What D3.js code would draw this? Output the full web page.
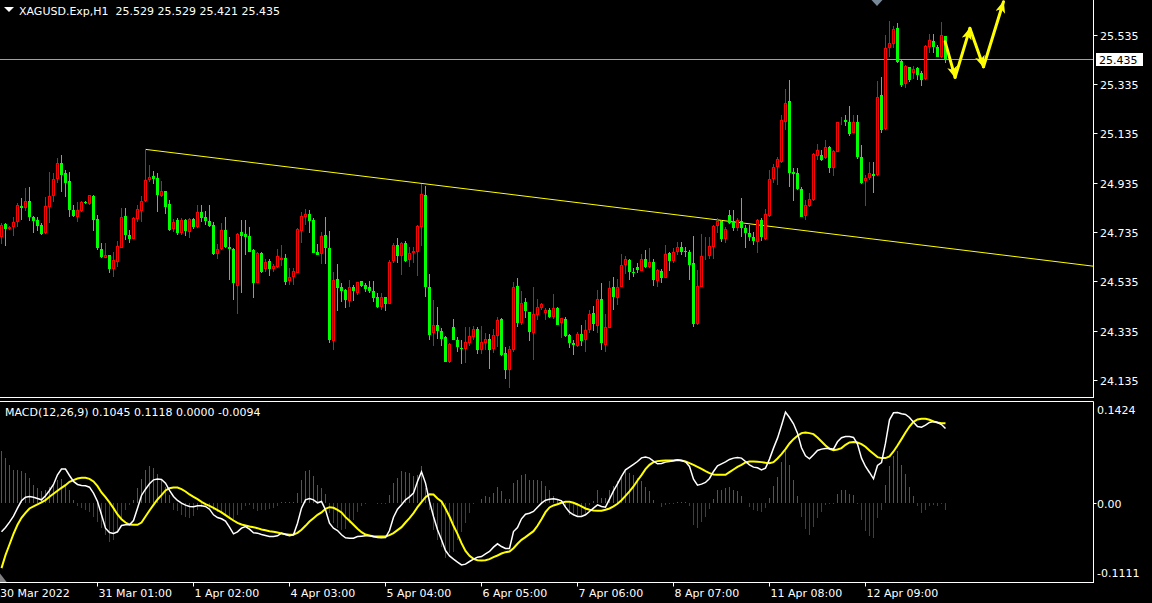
<!DOCTYPE html>
<html><head><meta charset="utf-8">
<script src="https://cdn.jsdelivr.net/npm/d3@7"></script>
<style>
html,body{margin:0;padding:0;background:#000;overflow:hidden}
svg{display:block}
text{font-family:"DejaVu Sans",sans-serif;font-size:11px;fill:#fff;white-space:pre}
</style>
</head><body><svg id="c" width="1152" height="603"></svg>
<script>
const symbolTitle = "XAGUSD.Exp,H1  25.529 25.529 25.421 25.435";
const macdTitle = "MACD(12,26,9) 0.1045 0.1118 0.0000 -0.0094";

const opens = [24.716,24.767,24.747,24.754,24.777,24.840,24.833,24.861,24.794,24.784,
24.762,24.730,24.838,24.881,24.950,25.014,24.975,24.942,24.824,24.797,
24.821,24.857,24.848,24.881,24.786,24.666,24.630,24.641,24.583,24.614,
24.671,24.800,24.723,24.706,24.789,24.820,24.861,24.947,24.962,24.953,
24.882,24.901,24.848,24.747,24.784,24.732,24.784,24.736,24.788,24.756,
24.817,24.794,24.779,24.763,24.647,24.667,24.743,24.674,24.666,24.517,
24.735,24.727,24.717,24.662,24.529,24.648,24.583,24.618,24.585,24.594,
24.621,24.628,24.537,24.551,24.570,24.740,24.797,24.808,24.784,24.654,
24.644,24.723,24.671,24.294,24.544,24.510,24.500,24.456,24.513,24.486,
24.536,24.520,24.513,24.495,24.471,24.432,24.471,24.444,24.617,24.682,
24.637,24.691,24.621,24.648,24.655,24.754,24.885,24.512,24.324,24.357,
24.333,24.310,24.209,24.349,24.297,24.264,24.261,24.286,24.310,24.341,
24.256,24.286,24.299,24.260,24.314,24.381,24.243,24.175,24.256,24.516,
24.364,24.450,24.409,24.326,24.398,24.428,24.407,24.418,24.391,24.426,
24.364,24.382,24.317,24.283,24.273,24.321,24.297,24.337,24.407,24.355,
24.463,24.276,24.347,24.510,24.468,24.513,24.600,24.620,24.574,24.593,
24.578,24.625,24.594,24.613,24.537,24.577,24.549,24.651,24.617,24.655,
24.674,24.659,24.655,24.609,24.362,24.513,24.632,24.637,24.675,24.759,
24.779,24.705,24.804,24.779,24.752,24.779,24.752,24.732,24.716,24.695,
24.784,24.706,24.800,24.949,24.997,25.020,25.182,25.267,24.979,24.973,
24.909,24.801,24.841,24.865,25.044,25.048,25.034,25.078,24.993,25.061,
25.181,25.189,25.182,25.138,25.181,25.040,24.943,24.953,24.970,24.966,
25.291,25.153,25.480,25.497,25.561,25.429,25.335,25.403,25.379,25.399,
25.379,25.354,25.487,25.510,25.487,25.444,25.529];

const highs = [24.770,24.770,24.759,24.794,24.854,24.872,24.912,24.916,24.800,24.797,
24.770,24.878,24.979,24.973,25.034,25.047,24.986,24.979,24.844,24.858,
24.861,24.861,24.885,24.885,24.804,24.689,24.689,24.643,24.655,24.700,
24.833,24.833,24.743,24.794,24.846,24.881,25.070,25.007,24.982,24.973,
24.942,24.903,24.865,24.786,24.790,24.790,24.789,24.792,24.790,24.844,
24.844,24.820,24.843,24.777,24.686,24.770,24.794,24.716,24.668,24.729,
24.784,24.784,24.754,24.665,24.652,24.654,24.625,24.625,24.605,24.666,
24.682,24.646,24.589,24.589,24.750,24.815,24.827,24.824,24.793,24.686,
24.736,24.797,24.740,24.574,24.605,24.527,24.502,24.540,24.520,24.533,
24.538,24.527,24.536,24.536,24.486,24.486,24.473,24.621,24.689,24.709,
24.695,24.698,24.673,24.673,24.763,24.930,24.921,24.564,24.459,24.432,
24.344,24.312,24.286,24.382,24.310,24.297,24.348,24.351,24.353,24.348,
24.353,24.324,24.320,24.342,24.391,24.387,24.269,24.272,24.531,24.549,
24.497,24.468,24.411,24.513,24.463,24.448,24.428,24.428,24.483,24.429,
24.387,24.391,24.320,24.297,24.330,24.357,24.378,24.418,24.435,24.500,
24.527,24.402,24.536,24.551,24.543,24.644,24.637,24.624,24.587,24.608,
24.646,24.662,24.669,24.624,24.583,24.583,24.682,24.655,24.671,24.695,
24.693,24.675,24.662,24.719,24.581,24.727,24.716,24.713,24.763,24.790,
24.784,24.756,24.824,24.824,24.790,24.871,24.763,24.763,24.736,24.787,
24.790,24.827,24.986,25.009,25.040,25.209,25.314,25.351,24.993,24.993,
24.919,24.865,24.894,25.054,25.092,25.067,25.108,25.084,25.067,25.182,
25.200,25.209,25.246,25.209,25.209,25.088,24.966,25.020,25.020,25.349,
25.365,25.534,25.592,25.571,25.581,25.433,25.412,25.405,25.408,25.405,
25.388,25.493,25.538,25.538,25.493,25.588,25.529];

const lows = [24.686,24.678,24.741,24.719,24.754,24.784,24.820,24.779,24.732,24.740,
24.723,24.727,24.770,24.858,24.932,24.898,24.878,24.797,24.797,24.777,
24.817,24.847,24.844,24.740,24.662,24.631,24.628,24.570,24.553,24.594,
24.669,24.702,24.692,24.705,24.777,24.777,24.855,24.939,24.928,24.817,
24.878,24.808,24.739,24.736,24.724,24.723,24.719,24.712,24.748,24.752,
24.777,24.763,24.754,24.641,24.624,24.663,24.671,24.540,24.459,24.402,
24.487,24.641,24.652,24.468,24.527,24.568,24.572,24.556,24.571,24.589,
24.597,24.520,24.520,24.520,24.567,24.691,24.763,24.732,24.648,24.640,
24.605,24.605,24.283,24.256,24.415,24.452,24.425,24.432,24.456,24.479,
24.510,24.493,24.489,24.451,24.426,24.418,24.415,24.442,24.608,24.610,
24.560,24.614,24.594,24.610,24.556,24.678,24.472,24.297,24.272,24.299,
24.272,24.206,24.205,24.296,24.249,24.199,24.205,24.272,24.297,24.240,
24.239,24.256,24.179,24.245,24.269,24.232,24.137,24.103,24.249,24.351,
24.357,24.387,24.293,24.215,24.378,24.418,24.378,24.385,24.382,24.356,
24.304,24.310,24.265,24.237,24.269,24.273,24.249,24.325,24.334,24.324,
24.256,24.248,24.344,24.418,24.439,24.510,24.564,24.540,24.551,24.570,
24.575,24.587,24.590,24.517,24.513,24.529,24.547,24.578,24.608,24.641,
24.641,24.635,24.540,24.351,24.357,24.510,24.621,24.624,24.626,24.729,
24.695,24.689,24.767,24.740,24.740,24.716,24.669,24.699,24.682,24.651,
24.699,24.702,24.797,24.932,24.925,25.013,25.149,24.919,24.862,24.905,
24.794,24.784,24.837,24.862,25.027,25.024,25.030,24.973,24.963,25.058,
25.169,25.165,25.124,25.135,25.030,24.930,24.840,24.946,24.892,24.962,
25.135,25.149,25.446,25.480,25.419,25.322,25.318,25.345,25.356,25.351,
25.327,25.351,25.462,25.460,25.444,25.439,25.421];

const closes = [24.763,24.746,24.754,24.777,24.844,24.832,24.861,24.797,24.781,24.759,
24.727,24.840,24.881,24.949,25.014,24.967,24.935,24.824,24.800,24.824,
24.857,24.851,24.884,24.784,24.671,24.632,24.640,24.585,24.621,24.678,
24.794,24.723,24.708,24.790,24.828,24.861,24.946,24.957,24.949,24.885,
24.901,24.838,24.743,24.777,24.731,24.782,24.739,24.788,24.754,24.817,
24.790,24.778,24.759,24.646,24.665,24.743,24.675,24.667,24.526,24.727,
24.720,24.716,24.655,24.529,24.650,24.574,24.614,24.583,24.597,24.637,
24.629,24.533,24.553,24.578,24.747,24.800,24.808,24.781,24.651,24.641,
24.719,24.671,24.297,24.540,24.509,24.497,24.459,24.513,24.497,24.531,
24.517,24.503,24.495,24.468,24.431,24.471,24.444,24.614,24.682,24.637,
24.689,24.618,24.648,24.658,24.759,24.889,24.513,24.317,24.357,24.334,
24.301,24.209,24.280,24.298,24.267,24.260,24.287,24.314,24.340,24.256,
24.290,24.299,24.256,24.316,24.377,24.235,24.175,24.259,24.510,24.364,
24.445,24.414,24.330,24.402,24.429,24.441,24.418,24.391,24.425,24.357,
24.385,24.314,24.283,24.276,24.320,24.293,24.337,24.401,24.362,24.463,
24.284,24.349,24.506,24.472,24.510,24.600,24.624,24.574,24.570,24.581,
24.624,24.593,24.613,24.540,24.581,24.549,24.646,24.618,24.655,24.674,
24.655,24.652,24.601,24.362,24.516,24.637,24.637,24.678,24.759,24.779,
24.706,24.746,24.772,24.752,24.784,24.750,24.729,24.716,24.699,24.784,
24.716,24.808,24.950,24.997,25.030,25.189,25.257,24.975,24.971,24.909,
24.797,24.844,24.867,25.051,25.067,25.027,25.078,24.996,25.063,25.181,
25.185,25.181,25.132,25.180,25.040,24.932,24.955,24.973,24.963,25.284,
25.149,25.480,25.500,25.557,25.426,25.331,25.408,25.351,25.396,25.372,
25.351,25.489,25.514,25.487,25.446,25.534,25.435];

const macdLine = [-0.0401,-0.0341,-0.0266,-0.0182,-0.0070,0.0033,0.0084,0.0094,0.0084,0.0066,
0.0047,0.0103,0.0178,0.0262,0.0397,0.0477,0.0477,0.0388,0.0304,0.0262,
0.0248,0.0243,0.0224,0.0140,0.0024,-0.0163,-0.0350,-0.0411,-0.0425,-0.0401,
-0.0313,-0.0303,-0.0303,-0.0243,-0.0070,0.0108,0.0196,0.0271,0.0327,0.0337,
0.0332,0.0281,0.0178,0.0094,0.0038,0.0000,-0.0028,-0.0046,-0.0051,-0.0037,
-0.0037,-0.0046,-0.0084,-0.0163,-0.0201,-0.0219,-0.0252,-0.0336,-0.0429,-0.0401,
-0.0350,-0.0327,-0.0364,-0.0415,-0.0420,-0.0439,-0.0453,-0.0467,-0.0467,-0.0457,
-0.0420,-0.0439,-0.0457,-0.0443,-0.0280,-0.0070,0.0047,0.0066,0.0047,0.0005,
0.0024,-0.0093,-0.0280,-0.0350,-0.0383,-0.0443,-0.0485,-0.0490,-0.0490,-0.0467,
-0.0462,-0.0457,-0.0457,-0.0467,-0.0481,-0.0485,-0.0481,-0.0383,-0.0196,-0.0084,
-0.0023,0.0047,0.0089,0.0140,0.0304,0.0439,0.0281,0.0024,-0.0187,-0.0373,
-0.0513,-0.0663,-0.0738,-0.0784,-0.0826,-0.0864,-0.0854,-0.0817,-0.0784,-0.0756,
-0.0747,-0.0710,-0.0677,-0.0616,-0.0569,-0.0607,-0.0635,-0.0635,-0.0397,-0.0341,
-0.0219,-0.0154,-0.0140,-0.0116,-0.0056,0.0000,0.0042,0.0056,0.0061,0.0052,
0.0033,-0.0056,-0.0126,-0.0163,-0.0187,-0.0187,-0.0163,-0.0116,-0.0070,-0.0023,
-0.0046,-0.0056,0.0056,0.0173,0.0271,0.0374,0.0467,0.0505,0.0542,0.0584,
0.0635,0.0645,0.0631,0.0589,0.0551,0.0556,0.0575,0.0584,0.0593,0.0603,
0.0598,0.0579,0.0514,0.0337,0.0252,0.0267,0.0290,0.0346,0.0444,0.0523,
0.0551,0.0579,0.0612,0.0631,0.0640,0.0631,0.0584,0.0537,0.0505,0.0495,
0.0467,0.0491,0.0617,0.0771,0.0911,0.1088,0.1275,0.1200,0.1112,0.0981,
0.0776,0.0663,0.0621,0.0677,0.0738,0.0757,0.0766,0.0766,0.0757,0.0860,
0.0916,0.0934,0.0934,0.0920,0.0827,0.0631,0.0514,0.0430,0.0341,0.0528,
0.0570,0.0841,0.1168,0.1266,0.1271,0.1252,0.1243,0.1200,0.1135,0.1074,
0.1065,0.1093,0.1130,0.1144,0.1130,0.1102,0.1045];

const signalLine = [-0.0910,-0.0728,-0.0579,-0.0429,-0.0303,-0.0205,-0.0135,-0.0074,-0.0046,-0.0018,
0.0010,0.0042,0.0089,0.0131,0.0173,0.0215,0.0252,0.0299,0.0323,0.0346,
0.0355,0.0355,0.0341,0.0304,0.0238,0.0150,0.0084,0.0010,-0.0070,-0.0158,
-0.0224,-0.0271,-0.0299,-0.0303,-0.0303,-0.0271,-0.0187,-0.0102,-0.0023,0.0052,
0.0112,0.0178,0.0210,0.0220,0.0220,0.0196,0.0164,0.0122,0.0089,0.0056,
0.0019,-0.0014,-0.0037,-0.0065,-0.0098,-0.0130,-0.0168,-0.0205,-0.0243,-0.0275,
-0.0299,-0.0313,-0.0327,-0.0336,-0.0350,-0.0369,-0.0378,-0.0392,-0.0401,-0.0411,
-0.0425,-0.0434,-0.0443,-0.0439,-0.0415,-0.0373,-0.0317,-0.0257,-0.0210,-0.0163,
-0.0130,-0.0079,-0.0056,-0.0065,-0.0093,-0.0130,-0.0196,-0.0247,-0.0303,-0.0359,
-0.0406,-0.0439,-0.0453,-0.0467,-0.0467,-0.0467,-0.0467,-0.0448,-0.0420,-0.0378,
-0.0336,-0.0271,-0.0210,-0.0140,-0.0056,0.0014,0.0084,0.0126,0.0122,0.0066,
0.0024,-0.0074,-0.0187,-0.0317,-0.0429,-0.0560,-0.0668,-0.0738,-0.0780,-0.0798,
-0.0803,-0.0798,-0.0784,-0.0756,-0.0733,-0.0705,-0.0686,-0.0677,-0.0630,-0.0569,
-0.0513,-0.0476,-0.0434,-0.0392,-0.0317,-0.0224,-0.0126,-0.0060,-0.0032,-0.0014,
0.0005,0.0019,0.0019,0.0005,-0.0018,-0.0046,-0.0074,-0.0093,-0.0102,-0.0107,
-0.0107,-0.0093,-0.0074,-0.0046,-0.0009,0.0042,0.0103,0.0164,0.0234,0.0318,
0.0393,0.0477,0.0537,0.0575,0.0589,0.0593,0.0598,0.0598,0.0598,0.0603,
0.0598,0.0584,0.0561,0.0537,0.0509,0.0481,0.0449,0.0421,0.0402,0.0397,
0.0397,0.0397,0.0435,0.0472,0.0509,0.0537,0.0570,0.0584,0.0584,0.0579,
0.0575,0.0565,0.0561,0.0575,0.0626,0.0687,0.0757,0.0836,0.0897,0.0944,
0.0981,0.0990,0.0981,0.0967,0.0920,0.0864,0.0808,0.0762,0.0743,0.0752,
0.0771,0.0818,0.0850,0.0855,0.0850,0.0827,0.0790,0.0738,0.0691,0.0645,
0.0631,0.0631,0.0654,0.0724,0.0808,0.0897,0.0990,0.1074,0.1140,0.1172,
0.1182,0.1182,0.1168,0.1144,0.1130,0.1121,0.1118];

const histogram = [0.0724,0.0631,0.0537,0.0467,0.0467,0.0444,0.0421,0.0351,0.0257,0.0210,
0.0164,0.0187,0.0224,0.0257,0.0327,0.0337,0.0243,0.0178,0.0047,-0.0046,
-0.0070,-0.0093,-0.0130,-0.0187,-0.0257,-0.0350,-0.0443,-0.0537,-0.0513,-0.0420,
-0.0210,-0.0093,-0.0023,0.0047,0.0210,0.0337,0.0467,0.0514,0.0491,0.0411,
0.0327,0.0224,0.0117,-0.0093,-0.0116,-0.0163,-0.0187,-0.0210,-0.0177,-0.0102,
-0.0056,-0.0046,-0.0070,-0.0102,-0.0130,-0.0149,-0.0168,-0.0187,-0.0215,-0.0163,
-0.0093,-0.0046,-0.0023,-0.0084,-0.0112,-0.0102,-0.0093,-0.0084,-0.0070,-0.0037,
0.0014,0.0010,0.0010,0.0010,0.0140,0.0327,0.0444,0.0458,0.0374,0.0257,
0.0210,0.0131,-0.0140,-0.0280,-0.0350,-0.0373,-0.0364,-0.0280,-0.0233,-0.0130,
-0.0037,-0.0009,-0.0004,-0.0004,-0.0009,-0.0009,-0.0014,0.0117,0.0281,0.0351,
0.0444,0.0430,0.0421,0.0374,0.0397,0.0523,0.0210,-0.0093,-0.0373,-0.0513,
-0.0607,-0.0770,-0.0700,-0.0677,-0.0513,-0.0397,-0.0280,-0.0140,-0.0009,0.0005,
0.0061,0.0094,0.0084,0.0140,0.0224,0.0164,0.0056,0.0056,0.0281,0.0318,
0.0397,0.0411,0.0327,0.0327,0.0327,0.0304,0.0243,0.0178,0.0103,0.0056,
0.0024,-0.0056,-0.0163,-0.0163,-0.0187,-0.0187,-0.0163,-0.0023,0.0024,0.0178,
0.0070,0.0070,0.0187,0.0243,0.0304,0.0383,0.0444,0.0421,0.0397,0.0351,
0.0304,0.0220,0.0164,0.0047,0.0005,-0.0056,-0.0023,-0.0014,-0.0009,0.0019,
0.0019,0.0019,-0.0037,-0.0303,-0.0350,-0.0257,-0.0187,-0.0084,0.0056,0.0178,
0.0187,0.0210,0.0224,0.0187,0.0164,0.0094,0.0000,-0.0056,-0.0093,-0.0116,
-0.0130,-0.0070,0.0070,0.0243,0.0360,0.0570,0.0724,0.0528,0.0327,0.0094,
-0.0187,-0.0364,-0.0443,-0.0336,-0.0210,-0.0130,-0.0023,-0.0014,-0.0009,0.0131,
0.0187,0.0187,0.0131,0.0117,-0.0009,-0.0233,-0.0383,-0.0458,-0.0490,-0.0210,
-0.0102,0.0257,0.0523,0.0654,0.0724,0.0537,0.0411,0.0220,0.0094,-0.0037,
-0.0140,-0.0102,-0.0037,-0.0028,-0.0046,-0.0009,-0.0094];

const priceTicks = [25.535,25.335,25.135,24.935,24.735,24.535,24.335,24.135];
const priceTickLabels = ["25.535","25.335","25.135","24.935","24.735","24.535","24.335","24.135"];
const bidPrice = 25.435;
const bidLabel = "25.435";
const macdTicks = [0.1424,0,-0.1111];
const macdTickLabels = ["0.1424","0.00","-0.1111"];
const timeBars = [0,24,48,72,96,120,144,168,192,216];
const timeLabels = ["30 Mar 2022","31 Mar 01:00","1 Apr 02:00","4 Apr 03:00","5 Apr 04:00","6 Apr 05:00","7 Apr 06:00","8 Apr 07:00","11 Apr 08:00","12 Apr 09:00"];
const trendBars = [36,105];
const trendPrices = [25.070,24.932];
const arrowBars = [235.9,238.4,242.1,245.5,250.5];
const arrowPrices = [25.507,25.362,25.561,25.405,25.669];
const shiftMarkerBar = 219;

const svg = d3.select("#c");
const W = 1152;
const rightEdge = 1093.5;
const mainTop = 0, mainBottom = 397;
const subTop = 401.5, subBottom = 582.5;

const x = d3.scaleLinear().domain([0,1]).range([1.5,5.5]);
const y = d3.scaleLinear().domain([25.676,24.0655]).range([mainTop, mainBottom]);
const ym = d3.scaleLinear().domain([0.1424,-0.1111]).range([subTop, subBottom]);

svg.append("rect").attr("width",W).attr("height",603).attr("fill","#000");

svg.append("clipPath").attr("id","mainClip").append("rect").attr("x",0).attr("y",0).attr("width",rightEdge).attr("height",mainBottom);
svg.append("clipPath").attr("id","subClip").append("rect").attr("x",0).attr("y",subTop).attr("width",rightEdge).attr("height",subBottom-subTop);

const gMain = svg.append("g").attr("clip-path","url(#mainClip)");

// bid line
gMain.append("line").attr("x1",0).attr("x2",rightEdge).attr("y1",Math.round(y(bidPrice))+0.5).attr("y2",Math.round(y(bidPrice))+0.5)
  .attr("stroke","#a0a0a0").attr("stroke-width",1);

// trendline (ray)
const tSlope = (trendPrices[1]-trendPrices[0])/(trendBars[1]-trendBars[0]);
const tEndBar = x.invert(rightEdge);
gMain.append("line")
  .attr("x1",x(trendBars[0])).attr("y1",y(trendPrices[0]))
  .attr("x2",x(tEndBar)).attr("y2",y(trendPrices[0]+tSlope*(tEndBar-trendBars[0])))
  .attr("stroke","#ffff00").attr("stroke-width",1);

// candles
const idx = d3.range(opens.length);
const cg = gMain.append("g");
idx.forEach(i=>{
  const bull = closes[i] >= opens[i];
  const col = bull ? "#ff0000" : "#00ff00";
  const cx = x(i);
  const yh = Math.round(y(highs[i])), yl = Math.round(y(lows[i]));
  cg.append("line").attr("x1",cx).attr("x2",cx).attr("y1",yh).attr("y2",Math.max(yl,yh+1))
    .attr("stroke",col).attr("stroke-width",1);
  const top = Math.round(y(Math.max(opens[i],closes[i])));
  const bot = Math.round(y(Math.min(opens[i],closes[i])));
  if (bull) {
    const h = Math.max(0, bot-top-1);
    cg.append("rect").attr("x",cx-1).attr("y",top+0.5).attr("width",2).attr("height",h)
      .attr("fill","#000").attr("stroke",col).attr("stroke-width",1);
  } else {
    cg.append("rect").attr("x",cx-1.5).attr("y",top).attr("width",3).attr("height",Math.max(1,bot-top))
      .attr("fill",col);
  }
});

// arrows
const defs = svg.append("defs");
defs.append("marker").attr("id","ah").attr("markerUnits","userSpaceOnUse")
  .attr("viewBox","0 0 12 10").attr("refX",11).attr("refY",5)
  .attr("markerWidth",12).attr("markerHeight",10).attr("orient","auto")
  .append("path").attr("d","M0,0 L12,5 L0,10 L3,5 z").attr("fill","#ffff00");
for (let k=0;k<arrowBars.length-1;k++){
  svg.append("line")
    .attr("x1",x(arrowBars[k])).attr("y1",y(arrowPrices[k]))
    .attr("x2",x(arrowBars[k+1])).attr("y2",y(arrowPrices[k+1]))
    .attr("stroke","#ffff00").attr("stroke-width",3).attr("stroke-linecap","round")
    .attr("marker-end","url(#ah)");
}

// chart shift marker
svg.append("path").attr("d",`M${x(shiftMarkerBar)-6},0 L${x(shiftMarkerBar)+5},0 L${x(shiftMarkerBar)-0.5},6 Z`).attr("fill","#778899");

// header
svg.append("path").attr("d","M4,7 L14,7 L9,12 Z").attr("fill","#fff");
svg.append("text").attr("x",19).attr("y",15).attr("xml:space","preserve").text(symbolTitle);

// price axis
priceTicks.forEach((p,k)=>{
  const yy = Math.round(y(p))+0.5;
  svg.append("line").attr("x1",rightEdge).attr("x2",rightEdge+4).attr("y1",yy).attr("y2",yy).attr("stroke","#fff");
  svg.append("text").attr("x",1100).attr("y",yy+4).text(priceTickLabels[k]);
});
const by = Math.round(y(bidPrice))+0.5;
svg.append("rect").attr("x",1096).attr("y",by-6.5).attr("width",47).attr("height",13).attr("fill","#fff");
svg.append("text").attr("x",1099).attr("y",by+4).style("fill","#000").text(bidLabel);

// MACD panel
const gSub = svg.append("g").attr("clip-path","url(#subClip)");
const y0 = Math.round(ym(0));
idx.forEach(i=>{
  const v = histogram[i];
  const yv = Math.round(ym(v));
  if (Math.abs(yv - y0) < 1) return;
  gSub.append("line").attr("x1",x(i)).attr("x2",x(i)).attr("y1",y0).attr("y2",yv)
    .attr("stroke", v>0 ? "#dc143c" : "#0a640a").attr("stroke-width",1);
});
gSub.append("path").attr("d",`M0,${subBottom-9} L0,${subBottom} L7,${subBottom} Z`).attr("fill","#808080");

const lineGen = d3.line().x((d,i)=>x(i)).y(d=>ym(d));
gSub.append("path").datum(signalLine).attr("d",lineGen).attr("fill","none").attr("stroke","#ffff00").attr("stroke-width",2);
gSub.append("path").datum(macdLine).attr("d",lineGen).attr("fill","none").attr("stroke","#ffffff").attr("stroke-width",1.5);

svg.append("text").attr("x",5).attr("y",416).text(macdTitle);

const mLabY = [410+4, Math.round(ym(0))+4.5, 573+4];
macdTicks.forEach((v,k)=>{
  svg.append("text").attr("x",1097).attr("y",mLabY[k]).text(macdTickLabels[k]);
});
svg.append("line").attr("x1",rightEdge).attr("x2",rightEdge+3).attr("y1",Math.round(ym(0))+0.5).attr("y2",Math.round(ym(0))+0.5).attr("stroke","#fff");

// frames
const fr = svg.append("g").attr("stroke","#fff").attr("stroke-width",1).attr("fill","none");
fr.append("line").attr("x1",0).attr("x2",rightEdge).attr("y1",mainBottom+0.5).attr("y2",mainBottom+0.5);
fr.append("line").attr("x1",rightEdge).attr("x2",rightEdge).attr("y1",0).attr("y2",mainBottom+1);
fr.append("line").attr("x1",0).attr("x2",rightEdge).attr("y1",subTop).attr("y2",subTop);
fr.append("line").attr("x1",rightEdge).attr("x2",rightEdge).attr("y1",subTop).attr("y2",subBottom);
fr.append("line").attr("x1",0).attr("x2",rightEdge+0.5).attr("y1",subBottom).attr("y2",subBottom);

// time axis
timeBars.forEach((b,k)=>{
  const tx = Math.round(x(b))-0.5;
  if (b>0) svg.append("line").attr("x1",tx).attr("x2",tx).attr("y1",subBottom).attr("y2",subBottom+4).attr("stroke","#fff");
  svg.append("text").attr("x", b===0 ? 0 : tx+1).attr("y",597).text(timeLabels[k]);
});
</script>
</body></html>
